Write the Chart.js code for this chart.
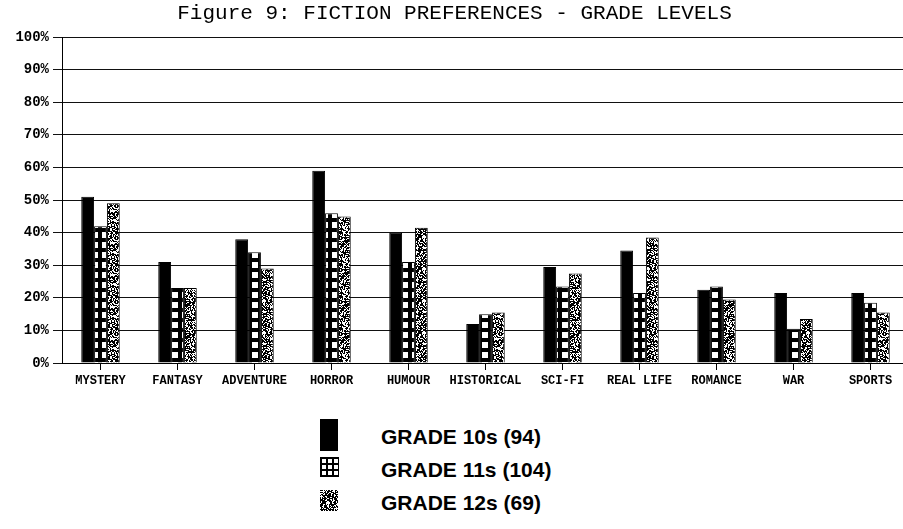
<!DOCTYPE html>
<html><head><meta charset="utf-8">
<script src="https://cdn.jsdelivr.net/npm/chart.js@4/dist/chart.umd.min.js"></script>
<style>
html,body{margin:0;padding:0;background:#fff;overflow:hidden;width:903px;height:529px;}
#wrap{position:relative;width:903px;height:529px;overflow:hidden;background:#fff}
#c{position:absolute;left:0;top:0}
.lg{position:absolute;font-family:'Liberation Sans',Arial,sans-serif;font-weight:bold;font-size:21px;color:#000;white-space:nowrap;line-height:1}
.sw{position:absolute}
</style></head>
<body><div id="wrap"><canvas id="c" width="909" height="400"></canvas></div>
<script>
const categories = ['MYSTERY','FANTASY','ADVENTURE','HORROR','HUMOUR','HISTORICAL','SCI-FI','REAL LIFE','ROMANCE','WAR','SPORTS'];
const grade10 = [51, 31, 38, 59, 40, 12, 29.5, 34.5, 22.5, 21.5, 21.5];
const grade11 = [42, 23, 34, 46, 31, 15, 23.5, 21.5, 23.5, 10.5, 18.5];
const grade12 = [49, 23, 29, 45, 41.5, 15.5, 27.5, 38.5, 19.5, 13.5, 15.5];
const seriesLabels = ['GRADE 10s (94)', 'GRADE 11s (104)', 'GRADE 12s (69)'];
const yTickValues = [0, 10, 20, 30, 40, 50, 60, 70, 80, 90, 100];
const titleText = 'Figure 9: FICTION PREFERENCES - GRADE LEVELS';

function hash(x, y) {
  let h = Math.imul(x, 374761393) + Math.imul(y, 668265263);
  h = Math.imul(h ^ (h >>> 13), 1274126177);
  h = h ^ (h >>> 16);
  return (h >>> 0) % 100;
}
function checkTile(period, sq, off) {
  const c = document.createElement('canvas');
  c.width = period; c.height = period;
  const g = c.getContext('2d');
  g.fillStyle = '#000'; g.fillRect(0, 0, period, period);
  g.fillStyle = '#fff'; g.fillRect(off, off, sq, sq);
  return c;
}
function noiseTile(n, dens) {
  const c = document.createElement('canvas');
  c.width = n; c.height = n;
  const g = c.getContext('2d');
  g.fillStyle = '#fff'; g.fillRect(0, 0, n, n);
  g.fillStyle = '#000';
  for (let y = 0; y < n; y++) for (let x = 0; x < n; x++) {
    if (hash(x, y) < dens) g.fillRect(x, y, 1, 1);
  }
  return c;
}
const ctx = document.getElementById('c').getContext('2d');
const checkPat = ctx.createPattern(checkTile(10, 6, 2), 'repeat');
const noisePat = ctx.createPattern(noiseTile(32, 58), 'repeat');
const fills = ['#000', checkPat, noisePat];
const datasetsData = [grade10, grade11, grade12];

new Chart(ctx, {
  type: 'bar',
  data: {
    labels: categories,
    datasets: datasetsData.map((d, i) => ({
      label: seriesLabels[i], data: d, backgroundColor: fills[i],
      borderColor: '#000', borderWidth: 1,
      categoryPercentage: 0.5, barPercentage: 1.0
    }))
  },
  options: {
    responsive: false, animation: false, devicePixelRatio: 1,
    layout: { padding: 0 },
    plugins: {
      legend: { display: false }, tooltip: { enabled: false },
      title: { display: true, text: titleText, color: '#000',
        font: { family: "'Liberation Mono', monospace", size: 21, weight: 'normal' },
        padding: { top: 1, bottom: 11 } }
    },
    scales: {
      x: {
        grid: { display: true, drawOnChartArea: false, drawTicks: true, tickLength: 7, offset: false, color: '#000' },
        border: { display: true, color: '#000', width: 1 },
        ticks: { color: '#000', padding: 4, maxRotation: 0, autoSkip: false,
          font: { family: "'Liberation Mono', monospace", size: 12, weight: 'bold' } },
        afterFit: s => { s.height = 37; }
      },
      y: {
        min: 0, max: 100,
        afterBuildTicks: s => { s.ticks = yTickValues.map(v => ({ value: v })); },
        grid: { color: '#111', lineWidth: 1, drawTicks: true, tickLength: 9 },
        border: { display: true, color: '#000', width: 1 },
        ticks: { color: '#000', padding: 4, callback: v => v + '%',
          font: { family: "'Liberation Mono', monospace", size: 14, weight: 'bold' } },
        afterFit: s => { s.width = 62; }
      }
    }
  }
});

// legend
const wrap = document.getElementById('wrap');
const swBoxes = [[320, 419, 18, 32], [320, 457, 19, 20], [320, 490, 18, 21]];
const textY = [426, 459, 492];
function drawSwatch(i, b) {
  const c = document.createElement('canvas');
  c.width = b[2]; c.height = b[3]; c.className = 'sw';
  c.style.left = b[0] + 'px'; c.style.top = b[1] + 'px';
  const g = c.getContext('2d');
  if (i === 0) { g.fillStyle = '#000'; g.fillRect(0, 0, b[2], b[3]); }
  else if (i === 1) {
    g.fillStyle = '#000'; g.fillRect(0, 0, b[2], b[3]);
    g.fillStyle = '#fff';
    for (let r = 0; r < 3; r++) for (let k = 0; k < 3; k++) g.fillRect(2 + k * 6, 2 + r * 6, 4, 4);
  } else {
    g.fillStyle = g.createPattern(noiseTile(32, 62), 'repeat'); g.fillRect(0, 0, b[2], b[3]);
  }
  wrap.appendChild(c);
}
seriesLabels.forEach((t, i) => {
  drawSwatch(i, swBoxes[i]);
  const s = document.createElement('div');
  s.className = 'lg'; s.textContent = t;
  s.style.left = '381px'; s.style.top = textY[i] + 'px';
  wrap.appendChild(s);
});
</script></body></html>
